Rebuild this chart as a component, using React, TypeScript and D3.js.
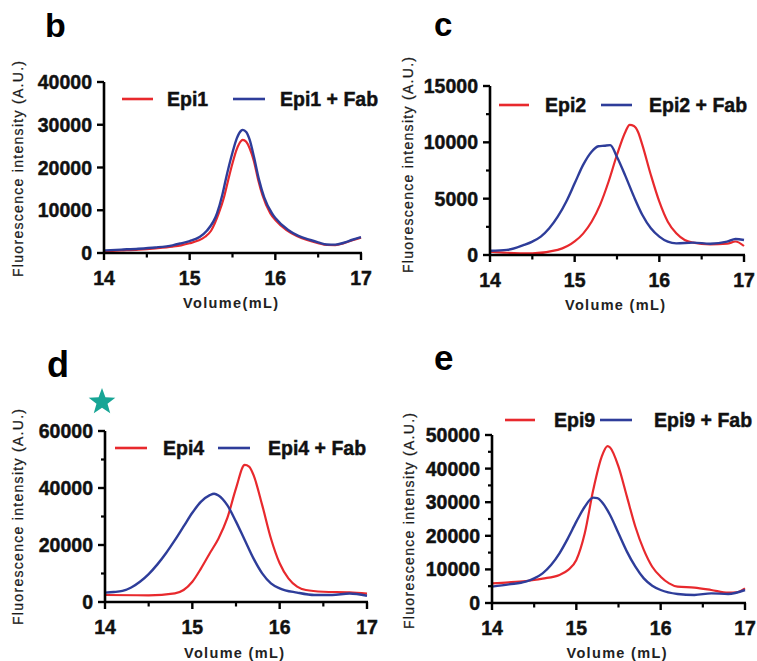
import React from "react";
import * as d3 from "d3";

// ---------- data (volume mL, fluorescence A.U.) ----------
const xTicks = [14, 15, 16, 17];
const xMinorTicks = [14.5, 15.5, 16.5];

const bYTicks = [0, 10000, 20000, 30000, 40000];
const bYMinor: number[] = [];
const cYTicks = [0, 5000, 10000, 15000];
const cYMinor = [2500, 7500, 12500];
const dYTicks = [0, 20000, 40000, 60000];
const dYMinor = [10000, 30000, 50000];
const eYTicks = [0, 10000, 20000, 30000, 40000, 50000];
const eYMinor = [5000, 15000, 25000, 35000, 45000];

const epi1: [number, number][] = [
  [14.0, 400], [14.2, 600], [14.4, 800], [14.6, 1100], [14.8, 1500], [14.9, 1800],
  [15.0, 2270], [15.1, 2900], [15.18, 3800], [15.25, 5200], [15.34, 9300], [15.4, 13000],
  [15.45, 17100], [15.5, 21000], [15.55, 24300], [15.6, 26200], [15.62, 26450], [15.66, 26000],
  [15.7, 24500], [15.75, 21500], [15.8, 17100], [15.85, 13500], [15.94, 9300], [16.0, 7700],
  [16.13, 5380], [16.25, 4000], [16.37, 3040], [16.5, 2300], [16.6, 1870], [16.7, 1850],
  [16.8, 2300], [16.9, 3000], [17.0, 3600],
];
const epi1Fab: [number, number][] = [
  [14.0, 600], [14.2, 800], [14.4, 1000], [14.6, 1300], [14.8, 1800], [14.9, 2270],
  [15.0, 2800], [15.12, 3800], [15.2, 5200], [15.32, 9300], [15.38, 13500], [15.42, 17100],
  [15.5, 23500], [15.55, 26800], [15.6, 28600], [15.62, 28800], [15.66, 28300], [15.7, 26500],
  [15.75, 22500], [15.81, 17100], [15.87, 13000], [15.96, 9300], [16.0, 8200], [16.15, 5380],
  [16.27, 4000], [16.41, 3040], [16.5, 2500], [16.6, 2000], [16.7, 1950], [16.8, 2400],
  [16.9, 3100], [17.0, 3700],
];

const epi2: [number, number][] = [
  [14.0, 300], [14.2, 200], [14.5, 150], [14.8, 450], [15.0, 1200], [15.1, 1900],
  [15.2, 2950], [15.3, 4450], [15.4, 6500], [15.5, 8900], [15.6, 10950], [15.65, 11550],
  [15.7, 11450], [15.75, 10900], [15.8, 9750], [15.9, 7100], [16.0, 4730], [16.1, 2950],
  [16.2, 1920], [16.3, 1330], [16.4, 1100], [16.6, 950], [16.8, 1000], [16.9, 1200], [17.0, 800],
];
const epi2Fab: [number, number][] = [
  [14.0, 380], [14.2, 450], [14.4, 890], [14.5, 1190], [14.6, 1630], [14.7, 2370],
  [14.8, 3400], [14.9, 4730], [15.0, 6360], [15.1, 8000], [15.2, 9170], [15.28, 9650],
  [15.35, 9700], [15.42, 9750], [15.5, 8700], [15.6, 7000], [15.7, 5180], [15.8, 3550],
  [15.9, 2370], [16.0, 1630], [16.1, 1180], [16.2, 1030], [16.4, 1100], [16.6, 1000],
  [16.8, 1180], [16.9, 1420], [17.0, 1330],
];

const epi4: [number, number][] = [
  [14.0, 2450], [14.5, 2350], [14.8, 3050], [14.9, 4200], [15.0, 7100], [15.1, 11800],
  [15.2, 17100], [15.3, 22300], [15.4, 29400], [15.5, 39900], [15.6, 48100], [15.65, 47500],
  [15.7, 44600], [15.8, 34000], [15.9, 22300], [16.0, 13600], [16.1, 8300], [16.2, 5400],
  [16.3, 4200], [16.5, 3600], [16.8, 3400], [17.0, 2950],
];
const epi4Fab: [number, number][] = [
  [14.0, 3300], [14.1, 3500], [14.2, 3900], [14.3, 5100], [14.4, 7100], [14.5, 9800],
  [14.6, 13200], [14.7, 17200], [14.8, 21700], [14.9, 26500], [15.0, 31300], [15.1, 35200],
  [15.2, 37500], [15.25, 38000], [15.3, 37400], [15.4, 34000], [15.5, 28200], [15.6, 21750],
  [15.7, 15300], [15.8, 10050], [15.9, 6550], [16.0, 4800], [16.2, 3300], [16.4, 2450],
  [16.6, 2450], [16.8, 3000], [17.0, 2200],
];

const epi9: [number, number][] = [
  [14.0, 5850], [14.2, 6150], [14.4, 6550], [14.5, 6850], [14.6, 7250], [14.8, 8350],
  [14.9, 9800], [15.0, 12800], [15.1, 20750], [15.2, 33600], [15.3, 43500], [15.37, 46700],
  [15.4, 46300], [15.5, 40600], [15.6, 31650], [15.7, 22700], [15.8, 15800], [15.9, 10800],
  [16.0, 7830], [16.1, 5850], [16.2, 4870], [16.4, 4570], [16.6, 3870], [16.8, 3070],
  [16.9, 3170], [17.0, 4370],
];
const epi9Fab: [number, number][] = [
  [14.0, 4870], [14.2, 5550], [14.4, 6350], [14.5, 7330], [14.6, 8830], [14.7, 11300],
  [14.8, 14800], [14.9, 19250], [15.0, 24200], [15.1, 28650], [15.2, 31350], [15.25, 31200],
  [15.3, 30150], [15.4, 26200], [15.5, 20750], [15.6, 15300], [15.7, 10800], [15.8, 7330],
  [15.9, 5150], [16.0, 3870], [16.2, 2680], [16.4, 2380], [16.6, 2870], [16.8, 2680], [17.0, 3870],
];

// ---------- layout ----------
const RED = "#e8292d";
const BLUE = "#2e3d9a";
const FONT = "'Liberation Sans', Arial, Helvetica, sans-serif";

type Panel = {
  letter: string; lx: number; ly: number; lsize: number;
  left: number; right: number; top: number; bottom: number;
  yMax: number; yTicks: number[]; yMinor: number[];
  red: [number, number][]; blue: [number, number][];
  redName: string; blueName: string;
  legY: number; legRed: [number, number]; legRedText: number; legBlue: [number, number]; legBlueText: number;
  yTitleX: number; yTitleY: number; xTitle: string; xTitleY: number;
};

const panels: Panel[] = [
  {
    letter: "b", lx: 45, ly: 37, lsize: 34,
    left: 104, right: 361, top: 82, bottom: 253,
    yMax: 40000, yTicks: bYTicks, yMinor: bYMinor, red: epi1, blue: epi1Fab,
    redName: "Epi1", blueName: "Epi1 + Fab",
    legY: 99, legRed: [122, 153], legRedText: 167, legBlue: [233, 265], legBlueText: 280,
    yTitleX: 18, yTitleY: 169, xTitle: "Volume(mL)", xTitleY: 308,
  },
  {
    letter: "c", lx: 434, ly: 36, lsize: 33,
    left: 490, right: 744, top: 86, bottom: 255,
    yMax: 15000, yTicks: cYTicks, yMinor: cYMinor, red: epi2, blue: epi2Fab,
    redName: "Epi2", blueName: "Epi2 + Fab",
    legY: 105, legRed: [499, 529], legRedText: 545, legBlue: [601, 632], legBlueText: 649,
    yTitleX: 408, yTitleY: 165, xTitle: "Volume (mL)", xTitleY: 310,
  },
  {
    letter: "d", lx: 47, ly: 377, lsize: 36,
    left: 105, right: 367, top: 431, bottom: 602,
    yMax: 60000, yTicks: dYTicks, yMinor: dYMinor, red: epi4, blue: epi4Fab,
    redName: "Epi4", blueName: "Epi4 + Fab",
    legY: 448, legRed: [115, 147], legRedText: 163, legBlue: [218, 250], legBlueText: 268,
    yTitleX: 18, yTitleY: 517, xTitle: "Volume (mL)", xTitleY: 658,
  },
  {
    letter: "e", lx: 434, ly: 370, lsize: 35,
    left: 492, right: 745, top: 435, bottom: 603,
    yMax: 50000, yTicks: eYTicks, yMinor: eYMinor, red: epi9, blue: epi9Fab,
    redName: "Epi9", blueName: "Epi9 + Fab",
    legY: 420, legRed: [505, 535], legRedText: 554, legBlue: [600, 632], legBlueText: 654,
    yTitleX: 409, yTitleY: 521, xTitle: "Volume (mL)", xTitleY: 658,
  },
];

function starPath(cx: number, cy: number, ro: number, ri: number) {
  const pts: string[] = [];
  for (let i = 0; i < 10; i++) {
    const r = i % 2 === 0 ? ro : ri;
    const a = -Math.PI / 2 + (i * Math.PI) / 5;
    pts.push(`${cx + r * Math.cos(a)},${cy + r * Math.sin(a)}`);
  }
  return "M" + pts.join("L") + "Z";
}

const boldText = { fontFamily: FONT, fontWeight: "bold" as const, fill: "#111", stroke: "#111", strokeWidth: 0.45 };

function PanelView({ p }: { p: Panel }) {
  const x = d3.scaleLinear().domain([14, 17]).range([p.left, p.right]);
  const y = d3.scaleLinear().domain([0, p.yMax]).range([p.bottom, p.top]);
  const line = d3
    .line<[number, number]>()
    .x((d) => x(d[0]))
    .y((d) => y(d[1]))
    .curve(d3.curveMonotoneX);
  const fmt = d3.format("d");
  return (
    <g>
      <text x={p.lx} y={p.ly} fontFamily={FONT} fontWeight="bold" fontSize={p.lsize} fill="#000">
        {p.letter}
      </text>
      {/* curves */}
      <path d={line(p.red) || ""} fill="none" stroke={RED} strokeWidth={2.2} strokeLinejoin="round" />
      <path d={line(p.blue) || ""} fill="none" stroke={BLUE} strokeWidth={2.4} strokeLinejoin="round" />
      {/* axes */}
      <line x1={p.left} x2={p.left} y1={y(p.yMax)} y2={p.bottom + 1} stroke="#000" strokeWidth={2.6} />
      <line x1={p.left} x2={p.right + 1} y1={p.bottom} y2={p.bottom} stroke="#000" strokeWidth={2.6} />
      {p.yTicks.map((t) => (
        <g key={"yt" + t}>
          <line x1={p.left - 7} x2={p.left} y1={y(t)} y2={y(t)} stroke="#000" strokeWidth={2.4} />
          <text x={p.left - 12} y={y(t) + 7} textAnchor="end" fontSize={19.5} {...boldText}>
            {fmt(t)}
          </text>
        </g>
      ))}
      {p.yMinor.map((t) => (
        <line key={"ym" + t} x1={p.left - 4} x2={p.left} y1={y(t)} y2={y(t)} stroke="#000" strokeWidth={2.2} />
      ))}
      {xTicks.map((t) => (
        <g key={"xt" + t}>
          <line x1={x(t)} x2={x(t)} y1={p.bottom} y2={p.bottom + 7} stroke="#000" strokeWidth={2.4} />
          <text x={x(t)} y={p.bottom + 32} textAnchor="middle" fontSize={19.5} {...boldText}>
            {fmt(t)}
          </text>
        </g>
      ))}
      {xMinorTicks.map((t) => (
        <line key={"xm" + t} x1={x(t)} x2={x(t)} y1={p.bottom} y2={p.bottom + 4.5} stroke="#000" strokeWidth={2.2} />
      ))}
      {/* titles */}
      <text
        transform={`translate(${p.yTitleX + 5},${p.yTitleY}) rotate(-90)`}
        textAnchor="middle" fontFamily={FONT} fontSize={14} fill="#1a1a1a"
        stroke="#1a1a1a" strokeWidth={0.25}
        textLength={216} lengthAdjust="spacing"
      >
        Fluorescence intensity (A.U.)
      </text>
      <text
        x={(p.left + p.right) / 2 - 2} y={p.xTitleY} textAnchor="middle"
        fontFamily={FONT} fontWeight="bold" fontSize={14.5} fill="#222"
        textLength={p.xTitle.length > 10 ? 100 : 95} lengthAdjust="spacing"
      >
        {p.xTitle}
      </text>
      {/* legend */}
      <line x1={p.legRed[0]} x2={p.legRed[1]} y1={p.legY} y2={p.legY} stroke={RED} strokeWidth={2.6} />
      <text x={p.legRedText} y={p.legY + 7} fontSize={19.5} {...boldText}>
        {p.redName}
      </text>
      <line x1={p.legBlue[0]} x2={p.legBlue[1]} y1={p.legY} y2={p.legY} stroke={BLUE} strokeWidth={2.6} />
      <text x={p.legBlueText} y={p.legY + 7} fontSize={19.5} {...boldText}>
        {p.blueName}
      </text>
    </g>
  );
}

export default function App() {
  return (
    <svg width={757} height={661} style={{ position: "absolute", left: 0, top: 0, background: "#fff" }}>
      <rect x={0} y={0} width={757} height={661} fill="#fff" />
      {panels.map((p) => (
        <PanelView key={p.letter} p={p} />
      ))}
      <path d={starPath(102, 402, 14, 5.8)} fill="#17a595" />
    </svg>
  );
}
